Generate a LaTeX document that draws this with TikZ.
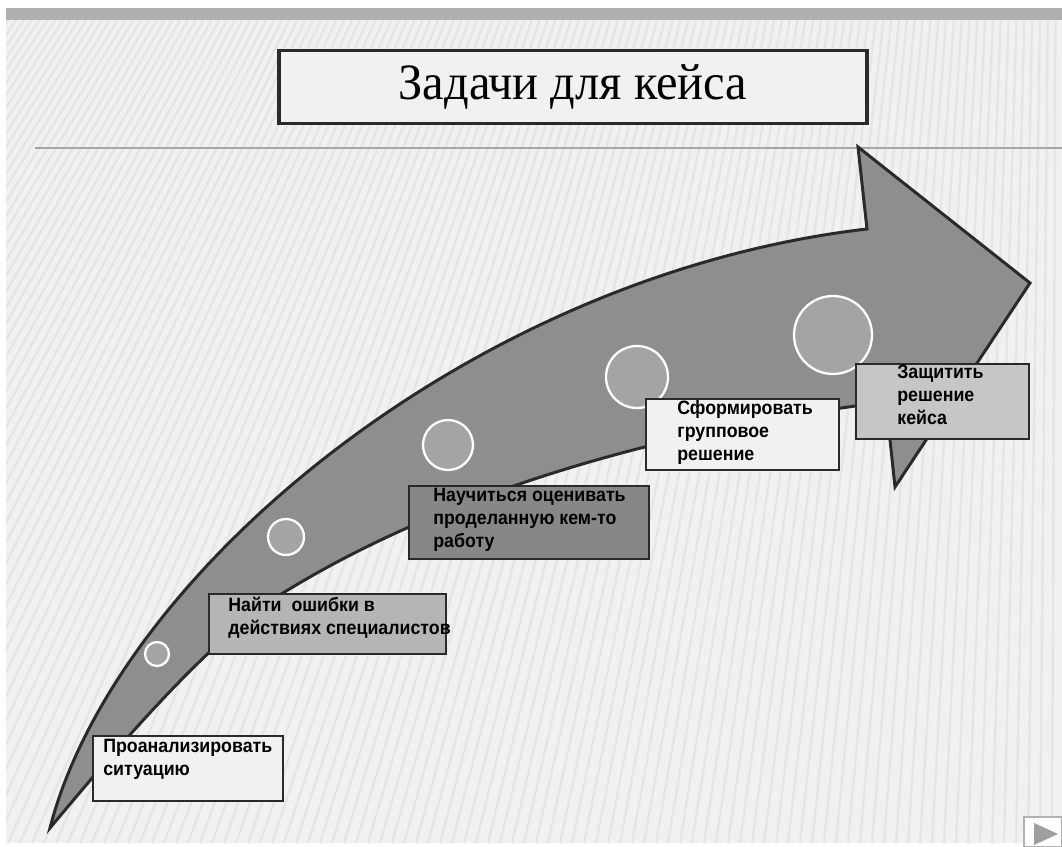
\documentclass[tikz,border=0pt]{standalone}
\usepackage{fontspec}
\setmainfont{Liberation Serif}
\setsansfont{Liberation Sans}
\newfontfamily\titlefont[FakeStretch=0.95]{Liberation Serif}
\newfontfamily\boxfont[FakeStretch=0.92]{Liberation Sans}
\usetikzlibrary{positioning,calc}
\definecolor{ink}{HTML}{2A2A2A}
\definecolor{slide}{HTML}{F1F1F1}
\definecolor{stripe}{HTML}{E5E5E5}
\definecolor{band}{HTML}{AFAFAF}
\definecolor{shaft}{HTML}{8E8E8E}
\definecolor{dot}{HTML}{A4A4A4}
\tikzset{
  card/.style={draw=ink, line width=1.3pt, anchor=north west, inner sep=0pt},
  lab/.style={text=black, anchor=north west, inner sep=0pt, align=left,
    font=\boxfont\bfseries\fontsize{11}{13}\selectfont},
  stage/.style={circle, draw=white, line width=1.3pt, fill=dot, inner sep=0pt},
  stripeln/.style={stripe, line width=1.3pt},
  bigarrow/.style={fill=shaft, draw=ink, line width=1.7pt, line join=miter},
}

\begin{document}
\begin{tikzpicture}[x=0.02cm, y=-0.02cm]
  \useasboundingbox (0,0) rectangle (1062,847);
  \fill[white] (0,0) rectangle (1062,847);
  % slide background with stripes
  \fill[slide] (6,8) rectangle (1062,843);
  \begin{scope}
    \clip (6,20) rectangle (1062,843);
    \foreach \b in {-700,-688,...,1062}
      \draw[stripeln] (\b,843) -- ({\b+0.45*max(0,1-\b/1062)*823},20);
  \end{scope}
  \fill[band] (6,8) rectangle (1062,20);
  \draw[gray!70, line width=0.6pt] (35,148) -- (1062,148);

  % title
  \node[draw=ink, line width=2.2pt, fill=slide, minimum width=11.76cm, minimum height=1.46cm,
    font=\titlefont\fontsize{29}{31}\selectfont] (title) at (573,87) {Задачи для кейса};

  % curved arrow
  \filldraw[bigarrow] (50,828) .. controls (115,575) and (470,275) .. (867,229)
    -- (858,147) -- (1030,283) -- (895,487) -- (886,402)
    .. controls (700,425) and (466,480) .. (283,593)
    .. controls (212,637) and (120,744) .. cycle;

  % stages on the arrow
  \foreach \cx/\cy/\d [count=\k] in {157/654/0.48, 286/537/0.72, 448/445/1.0, 637/377/1.24, 833/335/1.56}
    \node[stage, minimum size=\d cm] (c\k) at (\cx,\cy) {};

  % task cards
  \node[card, fill=slide, minimum width=3.8cm, minimum height=1.3cm] (b1) at (92,735) {};
  \node[lab] (t1) at ([shift={(11,4)}]b1.north west) {Проанализировать\\ситуацию};
  \node[card, fill=gray!58, minimum width=4.74cm, minimum height=1.2cm] (b2) at (208,593) {};
  \node[lab] (t2) at ([shift={(20,4)}]b2.north west) {Найти~~ошибки в\\действиях специалистов};
  \node[card, fill={rgb,255:red,135;green,135;blue,135}, minimum width=4.8cm, minimum height=1.46cm] (b3) at (408,485) {};
  \node[lab] (t3) at ([shift={(25,3)}]b3.north west) {Научиться оценивать\\проделанную кем-то\\работу};
  \node[card, fill=slide, minimum width=3.86cm, minimum height=1.42cm] (b4) at (645,398) {};
  \node[lab] (t4) at ([shift={(32,2)}]b4.north west) {Сформировать\\групповое\\решение};
  \node[card, fill=gray!45, minimum width=3.46cm, minimum height=1.5cm] (b5) at (855,363) {};
  \node[lab] (t5) at ([shift={(42,2)}]b5.north west) {Защитить\\решение\\кейса};

  % play button
  \filldraw[fill=white, draw=gray!60, line width=0.8pt] (1024,817) rectangle (1062,847);
  \fill[gray!75] (1034,823) -- (1058,834) -- (1034,845) -- cycle;
\end{tikzpicture}
\end{document}
